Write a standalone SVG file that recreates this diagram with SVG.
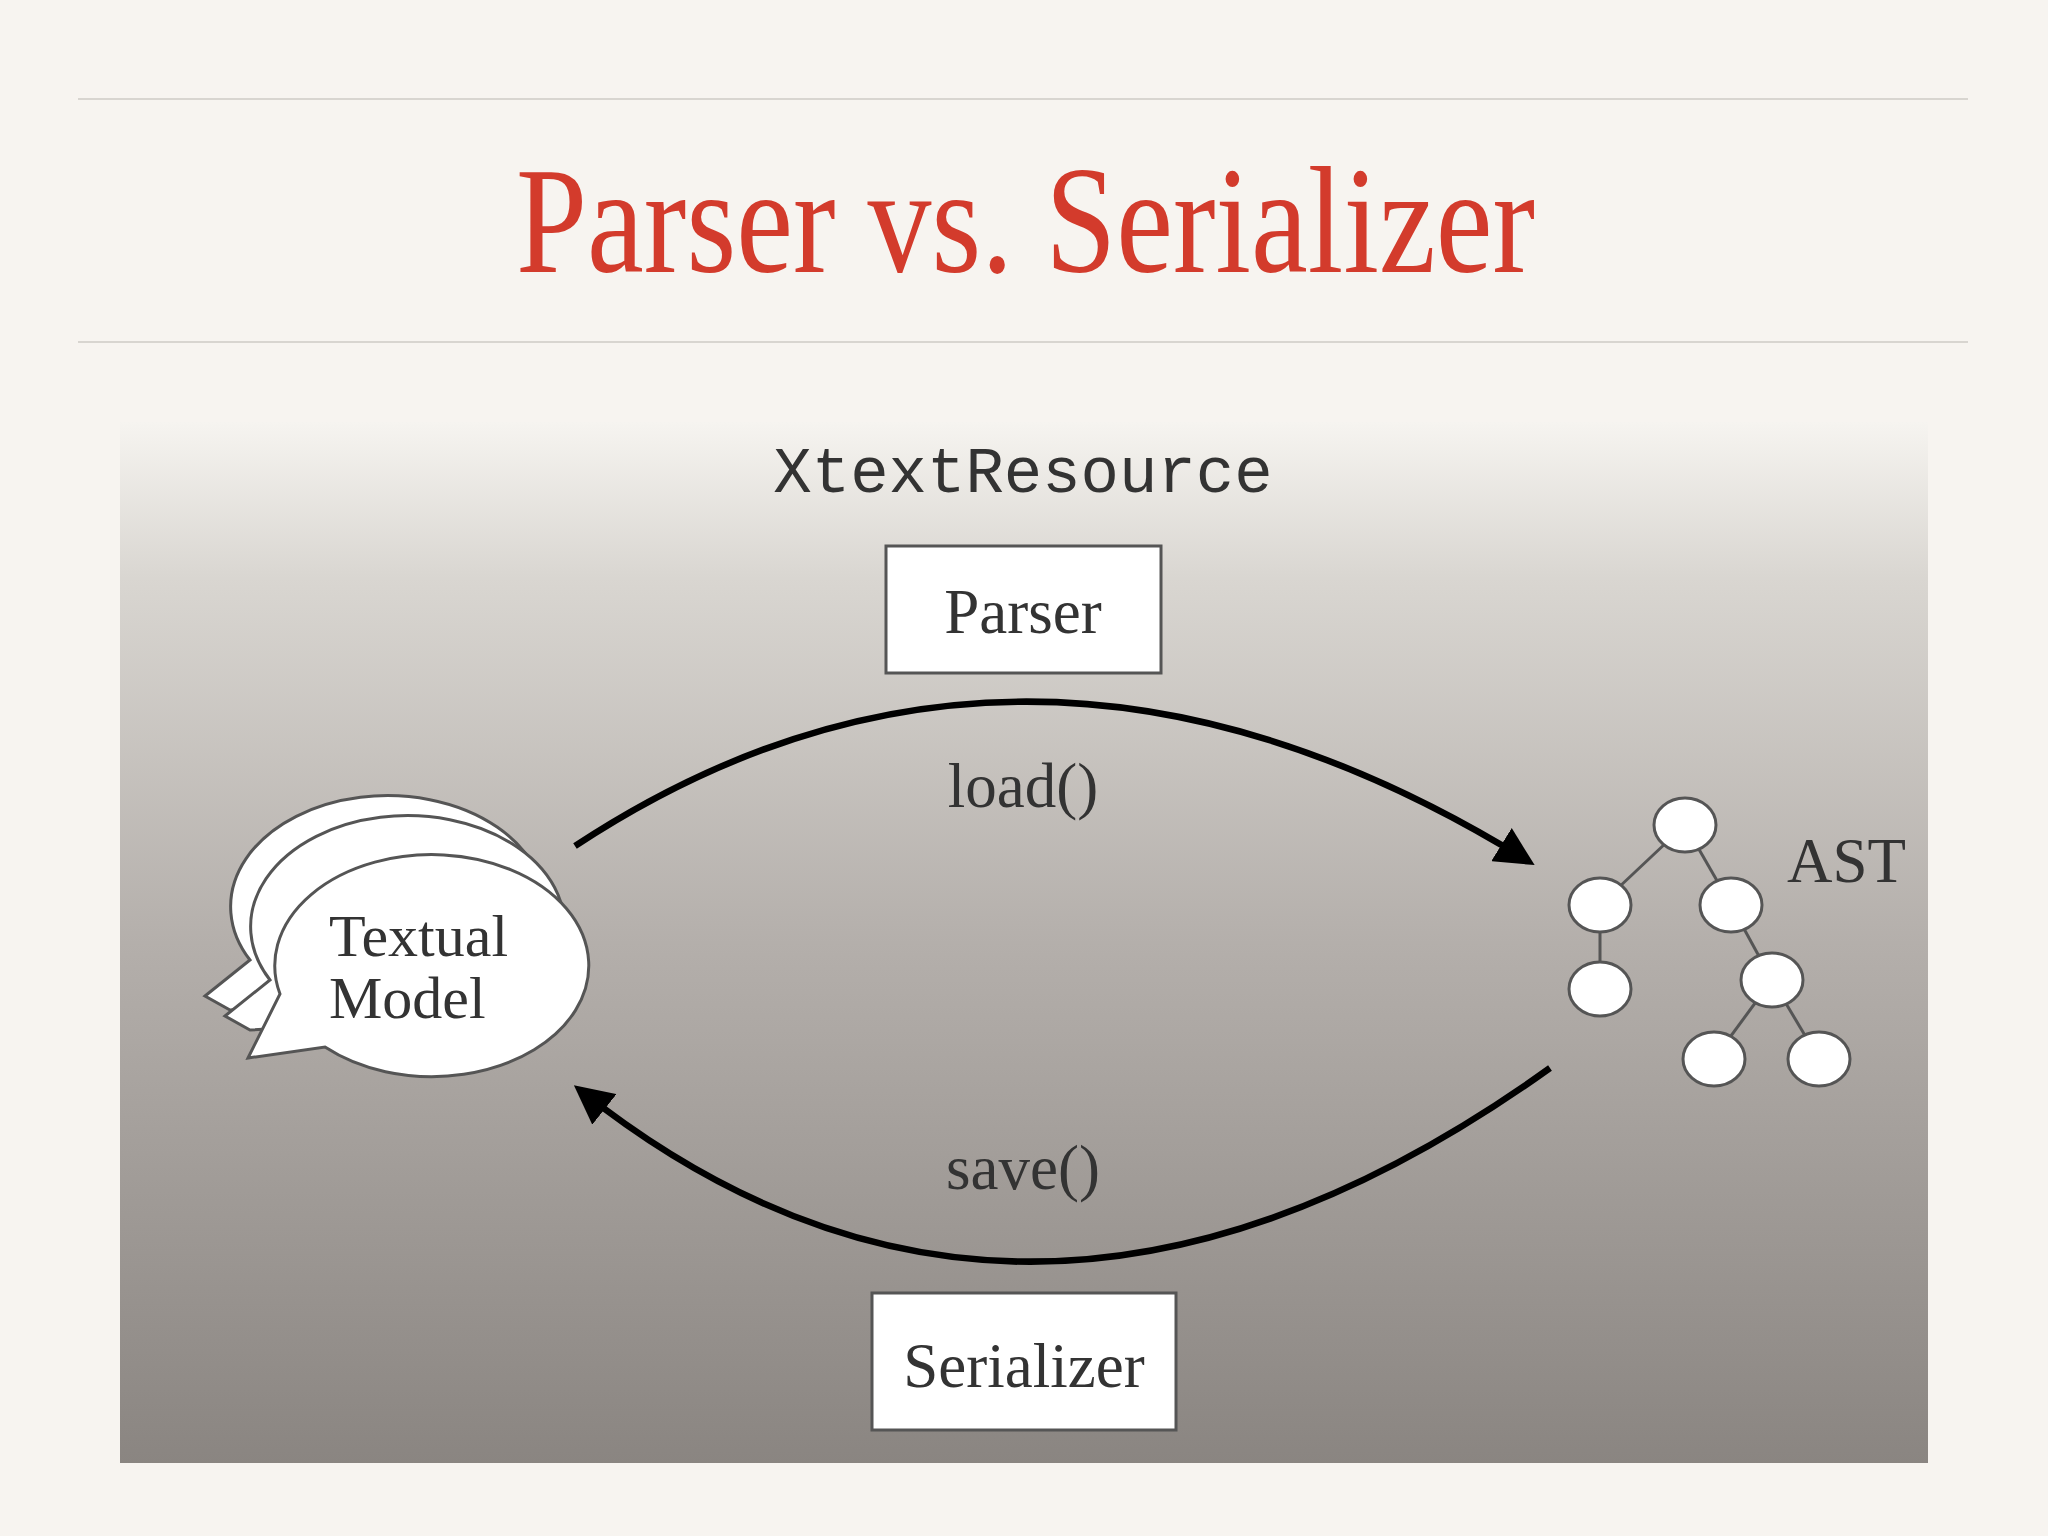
<svg xmlns="http://www.w3.org/2000/svg" width="2048" height="1536" viewBox="0 0 2048 1536">
<defs>
<linearGradient id="bg" x1="0" y1="0" x2="0" y2="1">
<stop offset="0" stop-color="#f6f4f0"/>
<stop offset="0.15" stop-color="#d9d6d1"/>
<stop offset="0.5" stop-color="#b4afab"/>
<stop offset="1" stop-color="#8a8581"/>
</linearGradient>
<marker id="ah" viewBox="0 0 10 10" refX="8" refY="5" markerWidth="6" markerHeight="6" orient="auto" markerUnits="strokeWidth">
<path d="M0,0 L10,5 L0,10 z" fill="#000"/>
</marker>
<style>
.serif{font-family:"Liberation Serif","DejaVu Serif",serif;fill:#333}
.box{fill:#fff;stroke:#555;stroke-width:3}
.bub{fill:#fff;stroke:#555;stroke-width:3}
.nd{fill:#fff;stroke:#555;stroke-width:3}
.ed{stroke:#555;stroke-width:3}
.arr{fill:none;stroke:#000;stroke-width:6.5}
</style>
</defs>
<rect width="2048" height="1536" fill="#f7f4f0"/>
<line x1="78" y1="99" x2="1968" y2="99" stroke="#d8d5d0" stroke-width="2"/>
<line x1="78" y1="342" x2="1968" y2="342" stroke="#d8d5d0" stroke-width="2"/>
<text x="516" y="272" textLength="1019" lengthAdjust="spacingAndGlyphs" font-family="Liberation Serif,serif" font-size="152" fill="#d33b2c">Parser vs. Serializer</text>
<rect x="120" y="422" width="1808" height="1041" fill="url(#bg)"/>
<text x="1023" y="492" text-anchor="middle" font-family="Liberation Mono,DejaVu Sans Mono,monospace" font-size="64" fill="#333">XtextResource</text>
<g id="parser"><rect class="box" x="886" y="546" width="275" height="127"/><text class="serif" x="1023" y="633" text-anchor="middle" font-size="63">Parser</text></g>
<g id="serializer"><rect class="box" x="872" y="1293" width="304" height="137"/><text class="serif" x="1024" y="1387" text-anchor="middle" font-size="63">Serializer</text></g>
<g id="connectors">
<path class="arr" d="M575,846 Q1025,550 1528,861" marker-end="url(#ah)"/>
<path class="arr" d="M1550,1068 Q1025,1444 580,1090" marker-end="url(#ah)"/>
<text class="serif" x="1023" y="807" text-anchor="middle" font-size="63">load()</text>
<text class="serif" x="1023" y="1189" text-anchor="middle" font-size="63">save()</text>
</g>
<g id="textual-model">
<path class="bub" d="M245,1036 L290,1000 A157,111 0 1 1 355,1045 L270,1050 Z" transform="translate(-40,-40)"/>
<path class="bub" d="M245,1036 L290,1000 A157,111 0 1 1 355,1045 L270,1050 Z" transform="translate(-20,-20)"/>
<path class="bub" d="M268,1074 L300,1010 A157,111 0 1 1 345,1063 Z" transform="translate(-20,-16)"/>
<text class="serif" x="329" y="956" font-size="60">Textual</text>
<text class="serif" x="329" y="1018" font-size="60">Model</text>
</g>
<g id="ast">
<line class="ed" x1="1685" y1="825" x2="1600" y2="905"/>
<line class="ed" x1="1685" y1="825" x2="1731" y2="905"/>
<line class="ed" x1="1600" y1="905" x2="1600" y2="989"/>
<line class="ed" x1="1731" y1="905" x2="1772" y2="980"/>
<line class="ed" x1="1772" y1="980" x2="1714" y2="1059"/>
<line class="ed" x1="1772" y1="980" x2="1819" y2="1059"/>
<ellipse class="nd" cx="1685" cy="825" rx="31" ry="27"/>
<ellipse class="nd" cx="1600" cy="905" rx="31" ry="27"/>
<ellipse class="nd" cx="1731" cy="905" rx="31" ry="27"/>
<ellipse class="nd" cx="1600" cy="989" rx="31" ry="27"/>
<ellipse class="nd" cx="1772" cy="980" rx="31" ry="27"/>
<ellipse class="nd" cx="1714" cy="1059" rx="31" ry="27"/>
<ellipse class="nd" cx="1819" cy="1059" rx="31" ry="27"/>
<text class="serif" x="1787" y="882" font-size="63">AST</text>
</g>
</svg>
